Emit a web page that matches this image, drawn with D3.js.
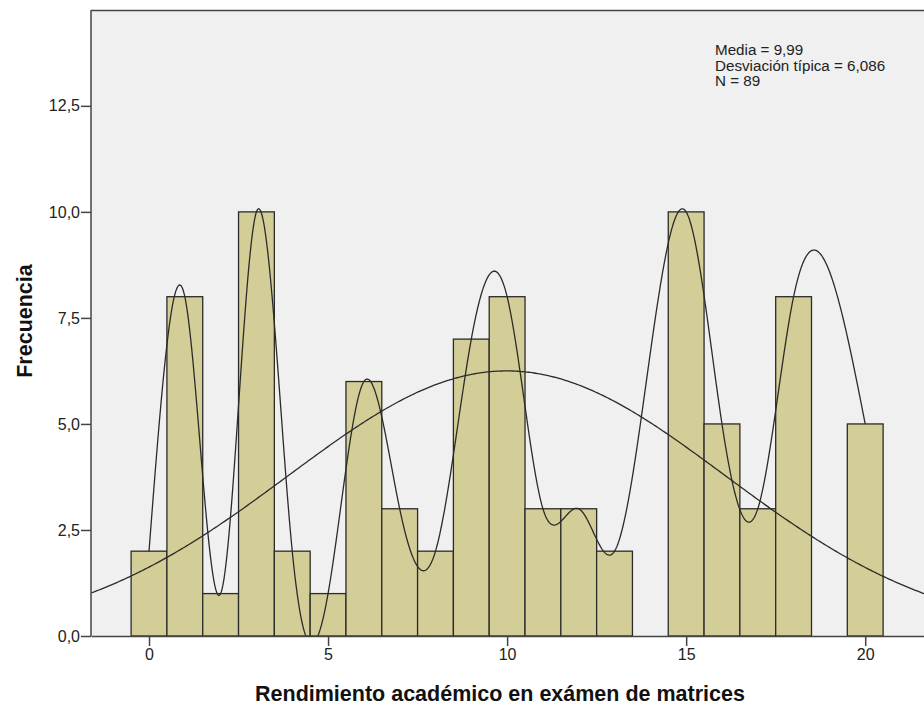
<!DOCTYPE html>
<html>
<head>
<meta charset="utf-8">
<script src="https://cdn.jsdelivr.net/npm/d3@7"></script>
<style>
  body { margin: 0; background: white; }
  text { font-family: "Liberation Sans", Arial, sans-serif; }
</style>
</head>
<body>
<script>
// datos del histograma (centro de barra, frecuencia)
const scores = [0, 1, 2, 3, 4, 5, 6, 7, 8, 9, 10, 11, 12, 13, 14, 15, 16, 17, 18, 19, 20]
const counts = [2, 8, 1, 10, 2, 1, 6, 3, 2, 7, 8, 3, 3, 2, 0, 10, 5, 3, 8, 0, 5]
const yTicks = [0, 2.5, 5, 7.5, 10, 12.5]
const xTicks = [0, 5, 10, 15, 20]
const stats = ["Media = 9,99", "Desviación típica = 6,086", "N = 89"]
const mean = 9.99, sd = 6.086
const curvePeak = 6.25   // altura de la normal

const [width, height] = [924, 709]
const margin = { left: 91, top: 10, right: -20, bottom: 73 }
const colors = {
    bg: "#f0f0f0",
    bar: "#d3ce97",
    stroke: "#2b2b2b",
    axis: "#444"
}

const x = d3.scaleLinear().domain([-1.62, 22.2]).range([margin.left, width - margin.right])
const y = d3.scaleLinear().domain([0, 14.76]).range([height - margin.bottom, margin.top])

// spline cubico natural y(x) por las alturas de las barras
function naturalSpline(xs, ys) {
    const n = xs.length
    const h = d3.range(n - 1).map(i => xs[i + 1] - xs[i])
    const M = new Array(n).fill(0)
    const a = [], b = [], c = [], r = []
    for (let i = 1; i < n - 1; i++) {
        a.push(h[i - 1]); b.push(2 * (h[i - 1] + h[i])); c.push(h[i])
        r.push(6 * ((ys[i + 1] - ys[i]) / h[i] - (ys[i] - ys[i - 1]) / h[i - 1]))
    }
    // thomas
    const m = b.length
    for (let i = 1; i < m; i++) {
        const w = a[i] / b[i - 1]
        b[i] -= w * c[i - 1]
        r[i] -= w * r[i - 1]
    }
    const sol = new Array(m)
    sol[m - 1] = r[m - 1] / b[m - 1]
    for (let i = m - 2; i >= 0; i--) sol[i] = (r[i] - c[i] * sol[i + 1]) / b[i]
    for (let i = 0; i < m; i++) M[i + 1] = sol[i]
    return t => {
        let i = Math.min(n - 2, Math.max(0, d3.bisectRight(xs, t) - 1))
        const hi = h[i], u = xs[i + 1] - t, v = t - xs[i]
        return M[i] * u ** 3 / (6 * hi) + M[i + 1] * v ** 3 / (6 * hi)
            + (ys[i] / hi - M[i] * hi / 6) * u + (ys[i + 1] / hi - M[i + 1] * hi / 6) * v
    }
}

const svg = d3.select("body").append("svg")
    .attr("width", width).attr("height", height)

svg.append("defs").append("clipPath").attr("id", "clip")
    .append("rect")
    .attr("x", margin.left).attr("y", margin.top)
    .attr("width", width - margin.left - margin.right)
    .attr("height", y(0) - margin.top)

svg.append("rect")
    .attr("x", margin.left).attr("y", margin.top)
    .attr("width", width - margin.left - margin.right)
    .attr("height", y(0) - margin.top)
    .attr("fill", colors.bg)

// barras
const bins = scores.map((s, i) => ({ x: s, n: counts[i] })).filter(d => d.n > 0)
svg.append("g")
    .selectAll("rect")
    .data(bins)
    .join("rect")
        .attr("x", d => x(d.x - 0.5))
        .attr("y", d => y(d.n))
        .attr("width", d => x(d.x + 0.5) - x(d.x - 0.5))
        .attr("height", d => y(0) - y(d.n))
        .attr("fill", colors.bar)
        .attr("stroke", colors.stroke)
        .attr("stroke-width", 1.3)

const lines = svg.append("g").attr("clip-path", "url(#clip)")
    .attr("fill", "none").attr("stroke", colors.stroke).attr("stroke-width", 1.3)

// curva suavizada
const spl = naturalSpline(bins.map(d => d.x), bins.map(d => d.n))
const xsSpl = d3.range(bins[0].x, bins[bins.length - 1].x + 0.001, 0.02)
lines.append("path")
    .attr("d", d3.line().x(d => x(d)).y(d => y(spl(d)))(xsSpl))

// curva normal
const xs = d3.range(-1.7, 22.3, 0.05)
lines.append("path")
    .attr("d", d3.line()
        .x(d => x(d))
        .y(d => y(curvePeak * Math.exp(-0.5 * ((d - mean) / sd) ** 2)))(xs))

// ejes
svg.append("line")
    .attr("x1", margin.left).attr("x2", width)
    .attr("y1", margin.top + 0.5).attr("y2", margin.top + 0.5)
    .attr("stroke", colors.axis).attr("stroke-width", 1.5)

const yAxis = svg.append("g")
    .attr("transform", `translate(${margin.left},0)`)
    .call(d3.axisLeft(y).tickValues(yTicks).tickSize(10).tickPadding(1).tickSizeOuter(0)
        .tickFormat(d => d3.format(".1f")(d).replace(".", ",")))
yAxis.select(".domain").attr("stroke", colors.axis).attr("stroke-width", 1.5)
    .attr("d", `M0,${margin.top}V${y(0)}`)
yAxis.selectAll(".tick line").attr("stroke", colors.axis).attr("stroke-width", 1.5)
yAxis.selectAll(".tick text").attr("font-size", 16).attr("fill", "#222")

const xAxis = svg.append("g")
    .attr("transform", `translate(0,${y(0)})`)
    .call(d3.axisBottom(x).tickValues(xTicks).tickSize(10).tickPadding(3).tickSizeOuter(0))
xAxis.select(".domain").attr("stroke", colors.axis).attr("stroke-width", 1.5)
xAxis.selectAll(".tick line").attr("stroke", colors.axis).attr("stroke-width", 1.5)
xAxis.selectAll(".tick text").attr("font-size", 16).attr("fill", "#222")

// titulos
svg.append("text")
    .attr("x", 500).attr("y", 701)
    .attr("text-anchor", "middle")
    .attr("font-size", 21.5).attr("font-weight", "bold").attr("fill", "#111")
    .text("Rendimiento académico en exámen de matrices")

svg.append("text")
    .attr("transform", "translate(32,321) rotate(-90)")
    .attr("text-anchor", "middle")
    .attr("font-size", 21.5).attr("font-weight", "bold").attr("fill", "#111")
    .text("Frecuencia")

svg.append("g")
    .selectAll("text")
    .data(stats)
    .join("text")
        .attr("x", 715).attr("y", (d, i) => 55 + i * 15.6)
        .attr("font-size", 15.2).attr("fill", "#222")
        .text(d => d)
</script>
</body>
</html>
